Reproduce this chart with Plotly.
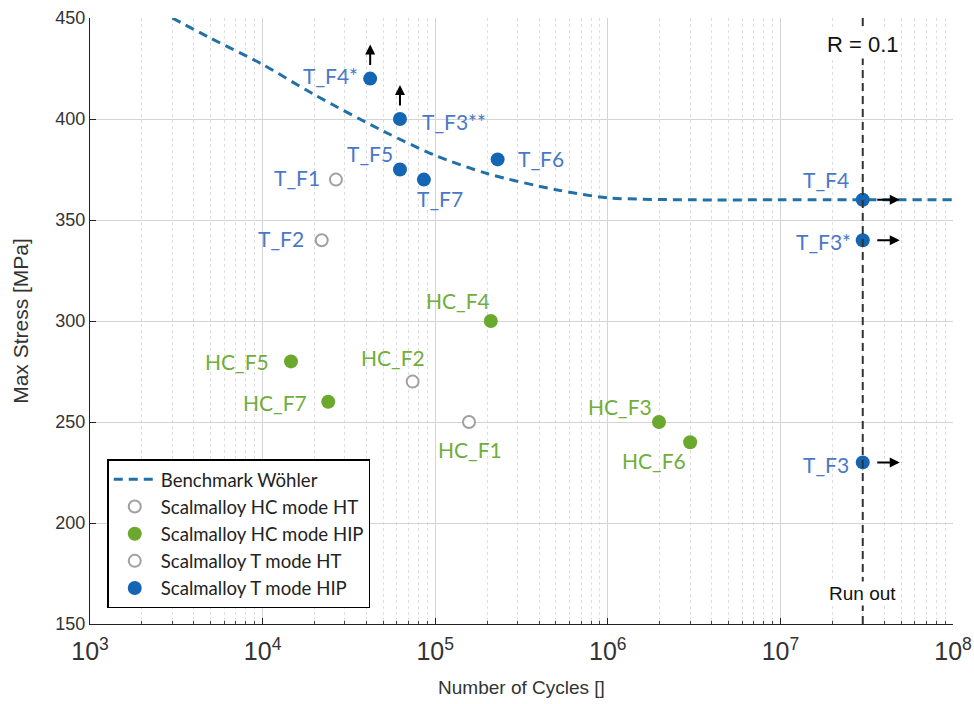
import math
import plotly.graph_objects as go

# Benchmark Wöhler curve (cycles, max stress in MPa)
wohler_n = [3e3, 5e3, 1e4, 2e4, 5e4, 1e5, 2e5, 5e5, 1e6, 3e6, 1e7, 1e8]
wohler_s = [450, 440, 427, 412, 394, 382, 373, 365, 361, 360, 360, 360]

# Scalmalloy HC mode, heat treated (open circles)
hc_ht_names = ["HC_F1", "HC_F2"]
hc_ht_n = [1.57e5, 7.4e4]
hc_ht_s = [250, 270]

# Scalmalloy HC mode, HIP (filled green)
hc_hip_names = ["HC_F3", "HC_F4", "HC_F5", "HC_F6", "HC_F7"]
hc_hip_n = [1.98e6, 2.1e5, 1.46e4, 3.0e6, 2.4e4]
hc_hip_s = [250, 300, 280, 240, 260]

# Scalmalloy T mode, heat treated (open circles)
t_ht_names = ["T_F1", "T_F2"]
t_ht_n = [2.66e4, 2.2e4]
t_ht_s = [370, 340]

# Scalmalloy T mode, HIP (filled blue)
t_hip_names = ["T_F4*", "T_F3**", "T_F5", "T_F7", "T_F6", "T_F4", "T_F3*", "T_F3"]
t_hip_n = [4.2e4, 6.25e4, 6.25e4, 8.6e4, 2.3e5, 3e7, 3e7, 3e7]
t_hip_s = [420, 400, 375, 370, 380, 360, 340, 230]

# Points with raised load (up arrows) and run-outs (right arrows)
raised = ["T_F4*", "T_F3**"]
runouts = ["T_F4", "T_F3*", "T_F3"]

run_out_cycles = 3e7
r_ratio_text = "R = 0.1"

# label offsets in pixels: (dx, dy, xanchor)
label_pos = {
    "T_F4*": (-10, 3, "right"), "T_F3**": (20, -2, "left"), "T_F5": (-30, 16, "center"),
    "T_F7": (16, -19, "center"), "T_F6": (18, 1, "left"), "T_F1": (-14, 2, "right"),
    "T_F2": (-16, 2, "right"), "T_F4": (-37, 20, "center"), "T_F3*": (-10, -1, "right"),
    "T_F3": (-12, -2, "right"), "HC_F4": (-33, 21, "center"), "HC_F5": (-20, 0, "right"),
    "HC_F7": (-19, -1, "right"), "HC_F2": (-20, 24, "center"), "HC_F1": (1, -27, "center"),
    "HC_F3": (-39, 16, "center"), "HC_F6": (-36, -18, "center"),
}

BLUE = "#1565b5"
BLUE_TXT = "#4a78c8"
GREEN = "#6aa82e"
GREEN_TXT = "#6fae3a"
GREY_RING = "#a0a0a0"
CURVE = "#2270a8"

fig = go.Figure()

fig.add_trace(go.Scatter(
    x=wohler_n, y=wohler_s, mode="lines", name="Benchmark Wöhler",
    line=dict(color=CURVE, width=3, dash="9px,6px", shape="spline", smoothing=0.8),
))
fig.add_trace(go.Scatter(
    x=hc_ht_n, y=hc_ht_s, mode="markers", name="Scalmalloy HC mode HT",
    marker=dict(size=12, color="white", line=dict(color=GREY_RING, width=2)),
))
fig.add_trace(go.Scatter(
    x=hc_hip_n, y=hc_hip_s, mode="markers", name="Scalmalloy HC mode HIP",
    marker=dict(size=14, color=GREEN, line=dict(width=0)),
))
fig.add_trace(go.Scatter(
    x=t_ht_n, y=t_ht_s, mode="markers", name="Scalmalloy T mode HT",
    marker=dict(size=12, color="white", line=dict(color=GREY_RING, width=2)),
))
fig.add_trace(go.Scatter(
    x=t_hip_n, y=t_hip_s, mode="markers", name="Scalmalloy T mode HIP",
    marker=dict(size=14, color=BLUE, line=dict(width=0)),
))

annotations = []
label_font = "Lato, 'Open Sans', sans-serif"


def add_labels(names, xs, ys, color):
    # annotation x on a log axis is given in log10 units
    for nm, xv, yv in zip(names, xs, ys):
        dx, dy, anc = label_pos[nm]
        annotations.append(dict(
            x=math.log10(xv), y=yv, xref="x", yref="y", text=nm, showarrow=False,
            xanchor=anc, yanchor="middle", xshift=dx, yshift=dy,
            font=dict(family=label_font, size=21, color=color),
        ))


add_labels(hc_ht_names, hc_ht_n, hc_ht_s, GREEN_TXT)
add_labels(hc_hip_names, hc_hip_n, hc_hip_s, GREEN_TXT)
add_labels(t_ht_names, t_ht_n, t_ht_s, BLUE_TXT)
add_labels(t_hip_names, t_hip_n, t_hip_s, BLUE_TXT)

for nm, xv, yv in zip(t_hip_names, t_hip_n, t_hip_s):
    if nm in raised:
        annotations.append(dict(
            x=math.log10(xv), y=yv, xref="x", yref="y", text="", showarrow=True,
            ax=0, ay=22, yshift=34, arrowhead=2, arrowsize=1, arrowwidth=2,
            arrowcolor="black",
        ))
    if nm in runouts:
        annotations.append(dict(
            x=math.log10(xv), y=yv, xref="x", yref="y", text="", showarrow=True,
            ax=-24, ay=0, xshift=37, arrowhead=2, arrowsize=1, arrowwidth=2,
            arrowcolor="black",
        ))

annotations.append(dict(
    x=math.log10(run_out_cycles), y=1, xref="x", yref="paper", text=r_ratio_text,
    showarrow=False, yanchor="top", yshift=-12, bgcolor="white",
    font=dict(family="Liberation Sans, Arial", size=22, color="#111"),
))
annotations.append(dict(
    x=math.log10(run_out_cycles), y=0, xref="x", yref="paper", text="Run out",
    showarrow=False, yanchor="bottom", yshift=18, bgcolor="white",
    font=dict(family="Liberation Sans, Arial", size=19, color="#111"),
))

fig.add_shape(
    type="line", x0=run_out_cycles, x1=run_out_cycles, y0=0, y1=1,
    xref="x", yref="paper", line=dict(color="#333", width=2, dash="8px,5px"),
    layer="above",
)

fig.update_layout(
    width=974, height=704,
    margin=dict(l=90, r=21, t=18, b=80),
    paper_bgcolor="white", plot_bgcolor="white",
    font=dict(family="Liberation Sans, Arial", color="#333"),
    annotations=annotations,
    showlegend=True,
    legend=dict(
        x=0.02, y=0.026, xanchor="left", yanchor="bottom",
        bgcolor="white", bordercolor="black", borderwidth=1.5,
        font=dict(family=label_font, size=18.6, color="#222"),
        tracegroupgap=0, itemwidth=42,
    ),
)

fig.update_xaxes(
    type="log", range=[3, 8], dtick=1, exponentformat="power", automargin=False,
    showline=True, linecolor="#222", linewidth=1.2,
    ticks="inside", ticklen=6, tickcolor="#222", ticklabelstandoff=6,
    showgrid=True, gridcolor="#d4d4d4", gridwidth=1,
    minor=dict(ticks="inside", ticklen=3, tickcolor="#444", showgrid=True,
               gridcolor="#dedede", griddash="dot", dtick="D1"),
    tickfont=dict(size=20, color="#333"),
    title=dict(text="Number of Cycles []", font=dict(size=19, color="#333"), standoff=16),
    zeroline=False,
)
fig.update_yaxes(
    range=[150, 450], dtick=50, automargin=False,
    showline=True, linecolor="#222", linewidth=1.2,
    ticks="inside", ticklen=6, tickcolor="#222",
    showgrid=True, gridcolor="#d4d4d4", gridwidth=1,
    tickfont=dict(size=18, color="#333"),
    title=dict(text="Max Stress [MPa]", font=dict(size=21, color="#333"), standoff=20),
    zeroline=False,
)

fig.write_html("out.html")
